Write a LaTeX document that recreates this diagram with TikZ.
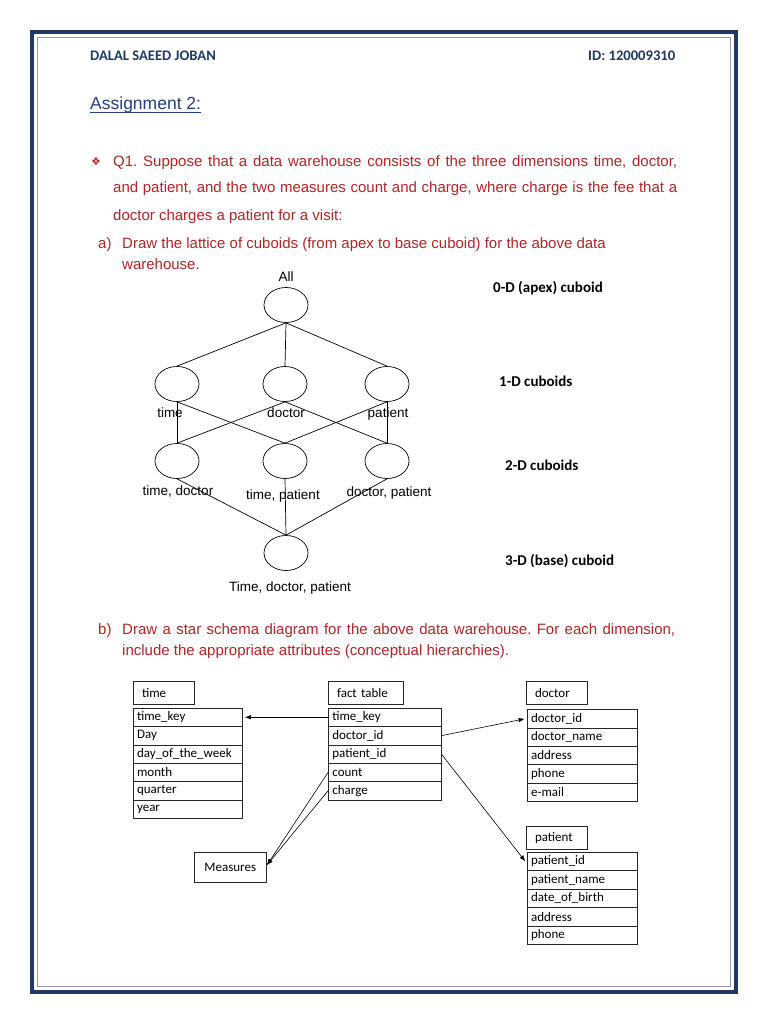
\documentclass[tikz,border=0pt]{standalone}
\usepackage{fontspec}
\setmainfont{Liberation Sans}
\newfontfamily\calib{Carlito}
\newfontfamily\djv{DejaVu Sans}
\usetikzlibrary{shapes.geometric,arrows.meta}
\definecolor{navy}{RGB}{31,56,100}
\definecolor{tblue}{RGB}{35,62,130}
\definecolor{qred}{RGB}{176,38,38}
\definecolor{bline}{RGB}{140,160,200}
\frenchspacing
\begin{document}
\begin{tikzpicture}[x=1pt,y=-1pt,
 txt/.style={inner sep=0pt, anchor=base west},
 q/.style={txt, text=qred, font=\fontsize{15}{17}\selectfont},
 cub/.style={ellipse, draw, line width=0.7pt, minimum width=44pt, minimum height=35pt, inner sep=0pt},
 lab/.style={inner sep=0pt, anchor=base, font=\fontsize{13.5}{15}\selectfont},
 dimlab/.style={txt, font=\calib\bfseries\fontsize{15}{17}\selectfont},
 edge/.style={line width=0.7pt},
 hdr/.style={draw=black!85, line width=0.7pt, anchor=north west, inner xsep=9pt, inner ysep=0pt, minimum height=23pt, text width=#1, align=left, font=\calib\fontsize{13}{15}\selectfont},
 row/.style={draw=black!85, line width=0.7pt, anchor=north west, inner xsep=4pt, inner ysep=0pt, minimum height=18.4pt, text width=#1, align=left, font=\calib\fontsize{13}{15}\selectfont},
 link/.style={line width=0.6pt, -{Latex[length=6pt,width=4.5pt]}}
]
\useasboundingbox (0,0) rectangle (768,1024);
\fill[white] (0,0) rectangle (768,1024);
\draw[navy, line width=4pt] (32,32) rectangle (736,992);
\draw[bline, line width=0.8pt] (37.5,37.5) rectangle (730.5,986.5);

% header
\node[txt, text=navy, font=\calib\bfseries\fontsize{14.6}{16}\selectfont] (name) at (90,61) {DALAL SAEED JOBAN};
\node[txt, text=navy, font=\calib\bfseries\fontsize{14.6}{16}\selectfont] (id) at (588,61) {ID: 120009310};
\node[txt, text=tblue, font=\fontsize{17.5}{20}\selectfont] (title) at (90,110) {Assignment 2:};
\draw[tblue, line width=0.8pt] ([yshift=-2.5pt]title.base west) -- ([yshift=-2.5pt]title.base east);

% question text
\node[txt, text=qred, font=\djv\fontsize{11}{13}\selectfont] (bul) at (91,166) {❖};
\node[q] (q1) at (113,167) {\makebox[564pt][s]{Q1. Suppose that a data warehouse consists of the three dimensions time, doctor,}};
\node[q] (q2) at (113,193) {\makebox[564pt][s]{and patient, and the two measures count and charge, where charge is the fee that a}};
\node[q] (q3) at (113,221) {doctor charges a patient for a visit:};
\node[q] (qa) at (98,248) {a)};
\node[q] (qa1) at (122,248) {Draw the lattice of cuboids (from apex to base cuboid) for the above data};
\node[q] (qa2) at (122,269) {warehouse.};

% lattice
\node[lab] (lall) at (286,281) {All};
\node[cub] (all) at (286,305) {};
\node[cub] (t) at (177,384) {};
\node[cub] (d) at (285,384) {};
\node[cub] (p) at (387,384) {};
\node[cub] (td) at (177,461) {};
\node[cub] (tp) at (285,461) {};
\node[cub] (dp) at (387,461) {};
\node[cub] (tdp) at (286,553) {};
\draw[edge] (all.south) -- (t.north);
\draw[edge] (all.south) -- (d.north);
\draw[edge] (all.south) -- (p.north);
\draw[edge] (t.south) -- (td.north);
\draw[edge] (t.south) -- (tp.north);
\draw[edge] (d.south) -- (td.north);
\draw[edge] (d.south) -- (dp.north);
\draw[edge] (p.south) -- (tp.north);
\draw[edge] (p.south) -- (dp.north);
\draw[edge] (td.south) -- (tdp.north);
\draw[edge] (tp.south) -- (tdp.north);
\draw[edge] (dp.south) -- (tdp.north);
\node[lab] (lt) at (170,417) {time};
\node[lab] (ld) at (286,417) {doctor};
\node[lab] (lp) at (388,417) {patient};
\node[lab] (ltd) at (178,495) {time, doctor};
\node[lab] (ltp) at (283,499) {time, patient};
\node[lab] (ldp) at (389,496) {doctor, patient};
\node[lab] (ltdp) at (290,591) {Time, doctor, patient};

\node[dimlab] (d0) at (493,292) {0-D (apex) cuboid};
\node[dimlab] (d1) at (499,386) {1-D cuboids};
\node[dimlab] (d2) at (505,470) {2-D cuboids};
\node[dimlab] (d3) at (505,565) {3-D (base) cuboid};

% part b
\node[q] (qb) at (98,634) {b)};
\node[q] (qb1) at (122,634) {\makebox[553pt][s]{Draw a star schema diagram for the above data warehouse. For each dimension,}};
\node[q] (qb2) at (122,655) {include the appropriate attributes (conceptual hierarchies).};

% star schema
\node[hdr=43.3pt] (th) at (132.7,681) {time};
\node[hdr=57.6pt] (fh) at (327.7,681) {fact table};
\node[hdr=43pt] (dh) at (525.7,681) {doctor};
\node[hdr=43pt] (ph) at (525.7,826) {patient};
\foreach \s [count=\i] in {time\_key,Day,day\_of\_the\_week,month,quarter,year}
  \node[row=101pt] (t\i) at (132.7,{707.7+(\i-1)*18.4}) {\s};
\foreach \s [count=\i] in {time\_key,doctor\_id,patient\_id,count,charge}
  \node[row=104.7pt] (f\i) at (328,{707.7+(\i-1)*18.4}) {\s};
\foreach \s [count=\i] in {doctor\_id,doctor\_name,address,phone,e-mail}
  \node[row=102pt] (d\i) at (526.7,{709.3+(\i-1)*18.3}) {\s};
\foreach \s [count=\i] in {patient\_id,patient\_name,date\_of\_birth,address,phone}
  \node[row=102pt] (p\i) at (526.7,{851.7+(\i-1)*18.5}) {\s};
\node[draw=black!85, line width=0.7pt, minimum width=72.7pt, minimum height=30pt, inner sep=0pt, font=\calib\fontsize{13}{15}\selectfont] (m) at (230.3,867.7) {Measures};

\draw[link] (f1.west) -- ([xshift=2.5pt]t1.east);
\draw[link] (f2.east) -- ([xshift=-2pt]d1.west);
\draw[link] (f3.east) -- ([xshift=-1.5pt]p1.west);
\draw[link] (f4.west) -- ([yshift=2.7pt]m.east);
\draw[link] (f5.west) -- ([yshift=2.7pt]m.east);
\end{tikzpicture}
\end{document}
